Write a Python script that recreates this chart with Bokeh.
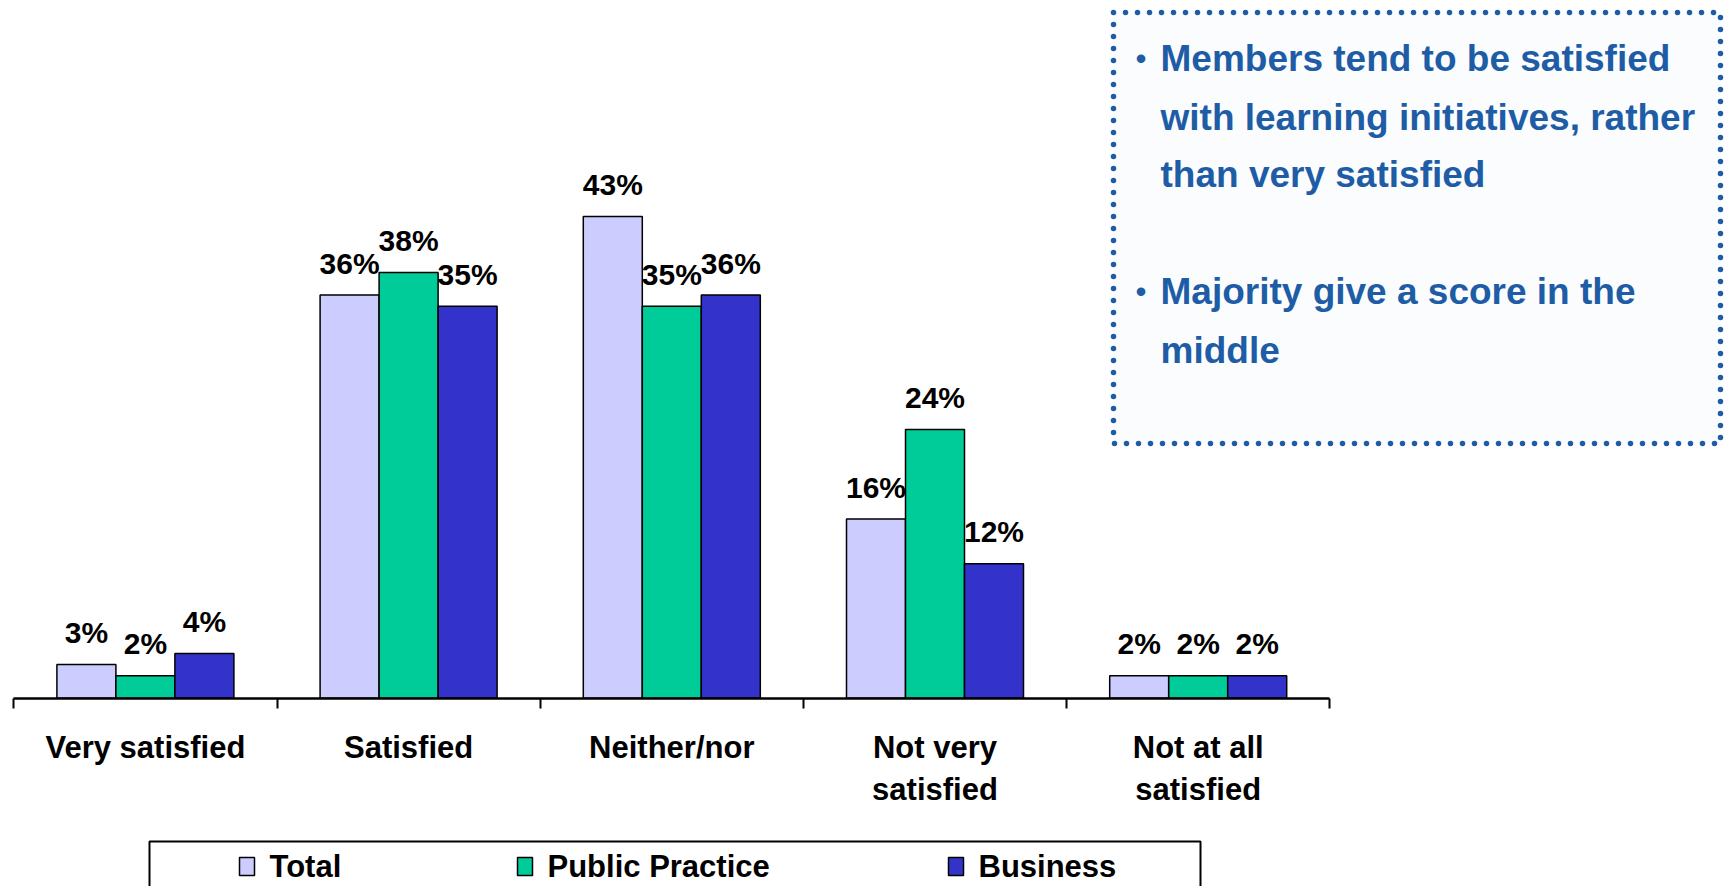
import numpy as np
from bokeh.plotting import figure
from bokeh.models import Range1d, LinearAxis, FixedTicker
from bokeh.core.properties import value
from bokeh.embed import file_html
from bokeh.resources import INLINE

# ---------------- data ----------------
categories = ["Very satisfied", "Satisfied", "Neither/nor",
              "Not very\nsatisfied", "Not at all\nsatisfied"]
series = ["Total", "Public Practice", "Business"]
total = [3, 36, 43, 16, 2]
public_practice = [2, 38, 35, 24, 2]
business = [4, 35, 36, 12, 2]
colors = ["#CCCCFF", "#00CC99", "#3333CC"]
notes = [
    ["Members tend to be satisfied", "with learning initiatives, rather", "than very satisfied"],
    ["Majority give a score in the", "middle"],
]

# ---------------- layout constants (screen px) ----------------
W, H = 1724, 886
M = 0           # the page template places the figure at the top-left corner
AX0 = 13.3      # screen x of left end of category axis
CATW = 263.2    # px per category
AXY = 697.7     # screen y of baseline
PXU = 11.2      # px per percent
FONT = value("Liberation Sans")
BLUE = "#1f5ca6"


def dx(sx):
    return (sx - AX0) / CATW


def dy(sy):
    return (AXY - sy) / PXU


p = figure(width=W, height=H,
           x_range=Range1d(dx(M), dx(M + W)),
           y_range=Range1d(dy(M + H), dy(M)),
           x_axis_type=None, y_axis_type=None,
           toolbar_location=None, output_backend="svg",
           min_border=0, min_border_left=0, min_border_right=0,
           min_border_top=0, min_border_bottom=0,
           outline_line_color=None,
           background_fill_color="white", border_fill_color="white")

# ---------------- text box ----------------
p.quad(left=dx(1113), right=dx(1720), top=dy(12), bottom=dy(443),
       fill_color="#fafcfd", line_color=BLUE, line_width=5.5,
       line_dash="0 12", line_cap="round")

note_y = [[58, 116.5, 174], [291, 350]]
nx, ny, nt = [], [], []
bx, by = [], []
for lines, ys in zip(notes, note_y):
    bx.append(dx(1140.5))
    by.append(dy(ys[0]))
    for t, yy in zip(lines, ys):
        nx.append(dx(1160))
        ny.append(dy(yy))
        nt.append(t)
p.text(x=nx, y=ny, text=nt, text_align="left", text_baseline="middle",
       text_font=FONT, text_font_style="bold", text_font_size="37px",
       text_color=BLUE)
p.text(x=bx, y=by, text=["\u2022"] * len(bx), text_align="center",
       text_baseline="middle", text_font=FONT, text_font_style="bold",
       text_font_size="30px", text_color=BLUE)

# ---------------- bars ----------------
bw = 59 / CATW
values = [total, public_practice, business]
xc = np.arange(len(categories)) + 0.5
for k, (name, vals, col) in enumerate(zip(series, values, colors)):
    xs = xc + (k - 1) * bw
    p.vbar(x=xs, top=vals, bottom=0, width=bw, fill_color=col,
           line_color="black", line_width=1.5)
    p.text(x=xs, y=np.array(vals, dtype=float) + 32 / PXU,
           text=[f"{v}%" for v in vals], text_align="center",
           text_baseline="middle", text_font=FONT, text_font_style="bold",
           text_font_size="30px", text_color="black")

# ---------------- category axis ----------------
ticks = list(range(len(categories) + 1))
ax = LinearAxis(fixed_location=0, bounds=(0, len(categories)),
                ticker=FixedTicker(ticks=ticks),
                major_label_overrides={t: "" for t in ticks},
                major_label_standoff=0,
                major_tick_in=0, major_tick_out=10,
                axis_line_width=2.5, axis_line_color="black",
                major_tick_line_width=2, major_tick_line_color="black",
                minor_tick_line_color=None)
p.add_layout(ax, "below")

cx, cy, ct = [], [], []
for i, cat in enumerate(categories):
    for j, line in enumerate(cat.split("\n")):
        cx.append(i + 0.5)
        cy.append(dy(747 + 42 * j))
        ct.append(line)
p.text(x=cx, y=cy, text=ct, text_align="center", text_baseline="middle",
       text_font=FONT, text_font_style="bold", text_font_size="31px",
       text_color="black")

# ---------------- legend ----------------
leg_left = [239, 517, 948]
p.quad(left=dx(149), right=dx(1200), top=dy(841), bottom=dy(905),
       fill_color=None, line_color="black", line_width=2)
p.rect(x=[dx(l + 7.5) for l in leg_left], y=[dy(866)] * 3, width=15, height=18,
       width_units="screen", height_units="screen", fill_color=colors,
       line_color="black", line_width=1.5)
p.text(x=[dx(l + 30) for l in leg_left], y=[dy(866)] * 3, text=series,
       text_align="left", text_baseline="middle", text_font=FONT,
       text_font_style="bold", text_font_size="31px", text_color="black")

open("out.html", "w").write(file_html(p, INLINE))
